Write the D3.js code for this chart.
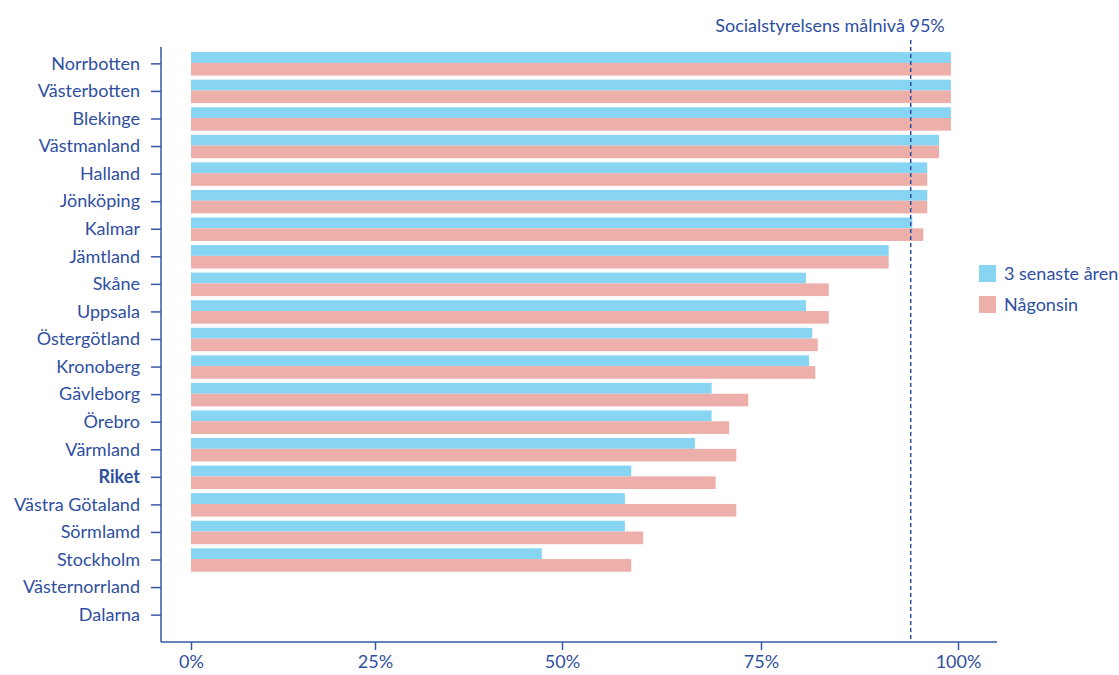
<!DOCTYPE html>
<html lang="sv">
<head>
    <meta charset="UTF-8">
    <title>Målnivå per region</title>
    <script src="https://d3js.org/d3.v7.min.js"></script>
    <style>
        body { margin: 0; background: #fff; }
        text { font-family: Lato, "Noto Sans", sans-serif; fill: #2f4f9e; }
    </style>
</head>
<body>
    <div id="chart"></div>

    <script>
        // Data
        var regions = ["Norrbotten", "Västerbotten", "Blekinge", "Västmanland", "Halland", "Jönköping",
            "Kalmar", "Jämtland", "Skåne", "Uppsala", "Östergötland", "Kronoberg", "Gävleborg",
            "Örebro", "Värmland", "Riket", "Västra Götaland", "Sörmlamd", "Stockholm",
            "Västernorrland", "Dalarna"];
        var senaste3 = [99.1, 99.1, 99.1, 97.6, 96.1, 96.1, 94.2, 91.2, 80.7, 80.7, 81.5, 81.1,
            68.8, 68.8, 66.7, 58.7, 57.9, 57.9, 47.3, null, null];
        var nagonsin = [99.1, 99.1, 99.1, 97.6, 96.1, 96.1, 95.6, 91.2, 83.6, 83.6, 82.2, 81.9,
            73.4, 71.0, 71.9, 69.3, 71.9, 60.2, 58.7, null, null];
        var seriesNames = ["3 senaste åren", "Någonsin"];
        var xTicks = [0, 25, 50, 75, 100];
        var targetValue = 94; // where the dashed line sits in the picture
        var targetLabel = "Socialstyrelsens målnivå 95%";

        var width = 1119, height = 675;
        var colors = ["#88d4f3", "#edafaa"];
        var axisColor = "#3558a6";
        var fontSize = "18px";

        var svg = d3.select("#chart").append("svg")
            .attr("width", width)
            .attr("height", height);

        // tick positions in the original are not evenly spaced, so use a polylinear scale
        var x = d3.scaleLinear()
            .domain(xTicks)
            .range([191, 375, 562, 761, 958]);

        var y = d3.scaleBand()
            .domain(regions)
            .range([48, 631])
            .padding(0.15);

        // blue bar is a bit thinner than the pink one
        var blueShare = 0.46;

        var rows = regions.map(function(r, i) {
            return { region: r, a: senaste3[i], b: nagonsin[i] };
        });

        var g = svg.append("g");

        g.selectAll("rect.a")
            .data(rows.filter(function(d) { return d.a != null; }))
            .enter().append("rect")
            .attr("class", "a")
            .attr("x", x(0))
            .attr("y", function(d) { return y(d.region); })
            .attr("width", function(d) { return x(d.a) - x(0); })
            .attr("height", y.bandwidth() * blueShare)
            .attr("fill", colors[0]);

        g.selectAll("rect.b")
            .data(rows.filter(function(d) { return d.b != null; }))
            .enter().append("rect")
            .attr("class", "b")
            .attr("x", x(0))
            .attr("y", function(d) { return y(d.region) + y.bandwidth() * blueShare; })
            .attr("width", function(d) { return x(d.b) - x(0); })
            .attr("height", y.bandwidth() * (1 - blueShare))
            .attr("fill", colors[1]);

        // target line
        svg.append("line")
            .attr("x1", x(targetValue)).attr("x2", x(targetValue))
            .attr("y1", 40).attr("y2", 642)
            .attr("stroke", "#2c4f9c")
            .attr("stroke-width", 1.5)
            .attr("stroke-dasharray", "4,3");

        svg.append("text")
            .attr("x", 830)
            .attr("y", 32)
            .attr("text-anchor", "middle")
            .style("font-size", fontSize)
            .text(targetLabel);

        // axes lines
        svg.append("line")
            .attr("x1", 161).attr("x2", 161)
            .attr("y1", 47).attr("y2", 642)
            .attr("stroke", axisColor).attr("stroke-width", 1.5);
        svg.append("line")
            .attr("x1", 161).attr("x2", 997)
            .attr("y1", 642).attr("y2", 642)
            .attr("stroke", axisColor).attr("stroke-width", 1.5);

        // y axis
        var yAxis = svg.append("g")
            .attr("transform", "translate(161,0)")
            .call(d3.axisLeft(y).tickSize(10).tickPadding(11));
        yAxis.select(".domain").remove();
        yAxis.selectAll(".tick line").attr("stroke", axisColor).attr("stroke-width", 1.5);
        yAxis.selectAll(".tick text")
            .style("font-size", fontSize)
            .style("font-family", "Lato, 'Noto Sans', sans-serif")
            .style("font-weight", function(d) { return d == "Riket" ? "bold" : "normal"; })
            .attr("fill", function(d) { return d == "Riket" ? "#1f3d8c" : "#2f4f9e"; });

        // x axis
        var xAxis = svg.append("g")
            .attr("transform", "translate(0,642)")
            .call(d3.axisBottom(x).tickValues(xTicks).tickSize(8).tickPadding(5)
                .tickFormat(function(d) { return d + "%"; }));
        xAxis.select(".domain").remove();
        xAxis.selectAll(".tick line").attr("stroke", axisColor).attr("stroke-width", 1.5);
        xAxis.selectAll(".tick text")
            .style("font-size", fontSize)
            .style("font-family", "Lato, 'Noto Sans', sans-serif")
            .attr("fill", "#2f4f9e");

        // legend
        var legend = svg.append("g").attr("transform", "translate(979,265)");
        seriesNames.forEach(function(name, i) {
            legend.append("rect")
                .attr("x", 0).attr("y", i * 31)
                .attr("width", 17).attr("height", 17)
                .attr("fill", colors[i]);
            legend.append("text")
                .attr("x", 25).attr("y", i * 31 + 9)
                .attr("dy", "0.35em")
                .style("font-size", fontSize)
                .text(name);
        });
    </script>
</body>
</html>
